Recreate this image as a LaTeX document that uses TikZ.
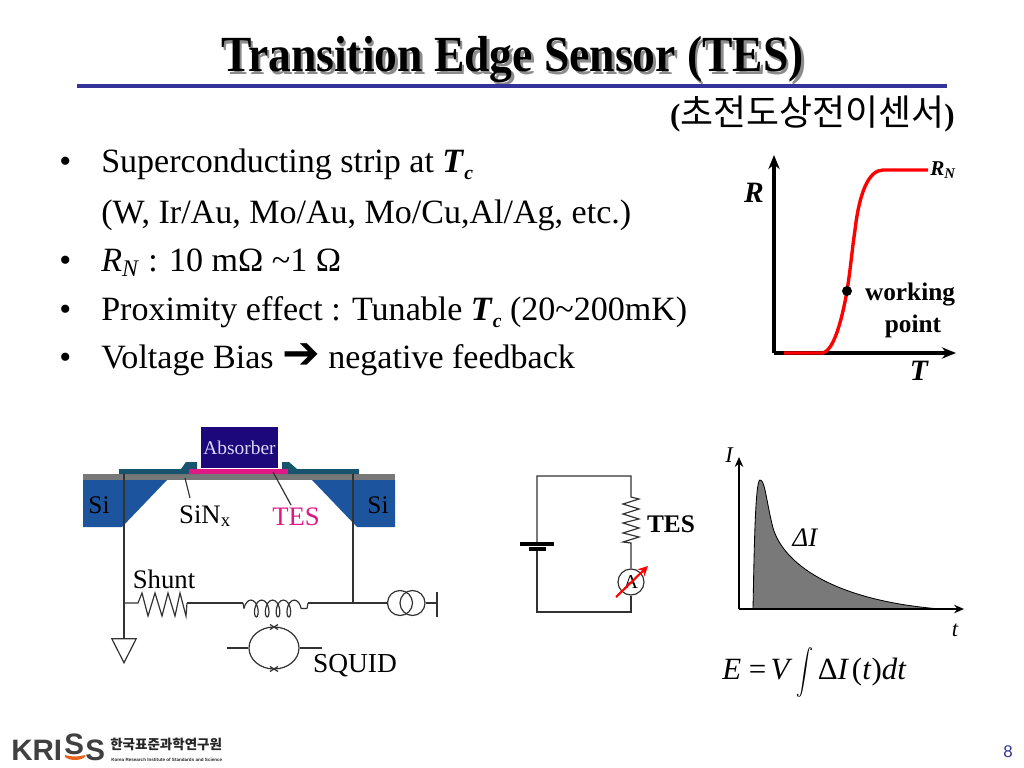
\documentclass[tikz,border=0pt]{standalone}
\usepackage{fontspec}
\usepackage{graphicx}
\setmainfont{Liberation Serif}
\newfontfamily\cjk{Noto Sans CJK KR}
\newfontfamily\sym{DejaVu Sans}
\newfontfamily\logofont{Liberation Sans}
\usetikzlibrary{arrows.meta,positioning,shapes.geometric,decorations.pathmorphing}
\definecolor{SlideBlue}{RGB}{51,51,153}
\definecolor{SiBlue}{RGB}{28,84,158}
\definecolor{LeadTeal}{RGB}{24,84,110}
\definecolor{AbsorberNavy}{RGB}{28,8,122}
\definecolor{TesPink}{RGB}{222,24,132}
\definecolor{MembraneGrey}{RGB}{120,120,120}
\definecolor{WireGrey}{RGB}{50,50,50}
\definecolor{LogoGrey}{RGB}{64,64,64}
\definecolor{LogoOrange}{RGB}{232,100,30}
\newcommand{\tcrit}{\textbf{\textit{T}}\raisebox{-0.22em}{\fontsize{14}{14}\selectfont\textbf{\textit{c}}}}

\begin{document}
\begin{tikzpicture}[
    x=0.025cm, y=-0.025cm,
    body/.style={font=\fontsize{24.2}{28}\selectfont, anchor=base west, inner sep=0pt},
    lbl/.style={font=\fontsize{#1}{#1}\selectfont, inner sep=0pt},
    lbl/.default=18,
    wire/.style={draw=WireGrey, line width=0.85pt},
    axis/.style={line width=2.2pt, -{Stealth[length=10pt,width=8pt]}},
    thinaxis/.style={line width=1.4pt, -{Stealth[length=7pt,width=6pt]}},
    dot/.style={circle, fill=black, inner sep=0pt, minimum size=0.25cm}
]
    \useasboundingbox (0,0) rectangle (1024,768);

    % title
    \node[inner sep=0pt, anchor=base, font=\fontsize{36}{36}\selectfont\bfseries, text=black!45] (titleshadow) at (515,74.5) {\scalebox{0.9}[1]{Transition Edge Sensor (TES)}};
    \node[inner sep=0pt, anchor=base, font=\fontsize{36}{36}\selectfont\bfseries] (title) at (512.5,72) {\scalebox{0.9}[1]{Transition Edge Sensor (TES)}};
    \coordinate (ruleL) at (77,86);
    \coordinate (ruleR) at (947,86);
    \draw[SlideBlue, line width=2.4pt] (ruleL) -- (ruleR);
    \node[lbl=25, anchor=east, font=\fontsize{22}{24}\selectfont\bfseries] (subtitle) at (955,114) {({\cjk\mdseries\fontsize{25.5}{26}\selectfont 초전도상전이센서})};

    % bullets
    \foreach \y/\n in {172/b1, 271/b3, 320/b4, 368/b5}
        \node[body] (\n) at (59,\y) {•};
    \node[body] (t1) at (101,172) {Superconducting strip at \tcrit};
    \node[body] (t2) at (101,223) {(W, Ir/Au, Mo/Au, Mo/Cu,Al/Ag, etc.)};
    \node[body] (t3) at (101,271) {\textit{R}\textsubscript{\textit{N}} : 10 mΩ \textasciitilde1 Ω};
    \node[body] (t4) at (101,320) {Proximity effect : Tunable \tcrit{} (20\textasciitilde200mK)};
    \node[body] (t5) at (101,368) {Voltage Bias {\sym\fontsize{32}{28}\selectfont ➔} negative feedback};

    % R-T curve
    \coordinate (rtO) at (774,353);
    \coordinate (rtY) at (774,155);
    \coordinate (rtX) at (956,353);
    \draw[axis] (rtO) -- (rtY);
    \draw[axis] (rtO) -- (rtX);
    \coordinate (rtA) at (784,353);
    \coordinate (rtB) at (823,353);
    \coordinate (rtW) at (847,291);
    \coordinate (rtM) at (855,230);
    \coordinate (rtC) at (883,170);
    \coordinate (rtD) at (928,170);
    \draw[red, line width=2.4pt] (rtA) -- (rtB) .. controls (833,350) and (841,325) .. (rtW)
        .. controls (851,265) and (852,250) .. (rtM)
        .. controls (859,195) and (868,170) .. (rtC) -- (rtD);
    \node[dot] (work) at (rtW) {};
    \node[font=\fontsize{21}{21}\selectfont\bfseries\itshape, inner sep=0pt] (rLbl) at (754,193) {R};
    \node[font=\fontsize{21}{21}\selectfont\bfseries\itshape, inner sep=0pt] (tLbl) at (919,371) {T};
    \node[font=\fontsize{15}{15}\selectfont\bfseries\itshape, inner sep=0pt] (rnLbl) at (943,170) {R\textsubscript{N}};
    \node[font=\fontsize{18}{18}\selectfont\bfseries, inner sep=0pt] (workLbl) at (910,295) {working};
    \node[font=\fontsize{18}{18}\selectfont\bfseries, inner sep=0pt] (pointLbl) at (913,326) {point};

    % device: substrate, membrane, leads
    \fill[SiBlue] (83,480) -- (167,480) -- (122,527) -- (83,527) -- cycle;
    \fill[SiBlue] (395,480) -- (312,480) -- (357,527) -- (395,527) -- cycle;
    \fill[MembraneGrey] (83,474) rectangle (395,480);
    \fill[LeadTeal] (119,469) -- (181,469) -- (186,462) -- (197,462) -- (197,469) -- (200,474) -- (119,474) -- cycle;
    \fill[LeadTeal] (359,469) -- (297,469) -- (289,462) -- (282,462) -- (282,469) -- (280,474) -- (359,474) -- cycle;
    \node[fill=AbsorberNavy, text=white!85!blue, minimum width=1.925cm, minimum height=1.025cm, inner sep=0pt, font=\fontsize{13.8}{14}\selectfont] (absorber) at (239.5,447.5) {Absorber};
    \fill[TesPink] (189,469) rectangle (288,474);
    \node[lbl=18] (siL) at (99,505) {Si};
    \node[lbl=18] (siR) at (378,505) {Si};
    \node[lbl=19] (sinx) at (205,516) {SiN\textsubscript{x}};
    \node[lbl=19, text=TesPink] (tesLbl) at (296,517) {TES};
    \coordinate (sinxTip) at (185,478);
    \coordinate (sinxEnd) at (190,498);
    \coordinate (tesTip) at (273,472);
    \coordinate (tesEnd) at (291,505);
    \draw[wire] (sinxTip) -- (sinxEnd);
    \draw[wire] (tesTip) -- (tesEnd);

    % readout circuit
    \coordinate (leadL) at (124,474);
    \coordinate (leadR) at (353,474);
    \coordinate (jL) at (124,603);
    \coordinate (jR) at (353,603);
    \coordinate (shuntA) at (138,603);
    \coordinate (shuntB) at (187,603);
    \coordinate (coilA) at (243,603);
    \coordinate (coilB) at (308,603);
    \coordinate (srcEnd) at (437,603);
    \node[isosceles triangle, isosceles triangle apex angle=54, shape border rotate=-90, draw=WireGrey, line width=0.85pt, minimum height=0.6cm, inner sep=0pt, anchor=apex] (gnd) at (124,664) {};
    \node[circle, draw=WireGrey, line width=0.85pt, minimum size=0.625cm, inner sep=0pt] (srcA) at (400,603) {};
    \node[circle, draw=WireGrey, line width=0.85pt, minimum size=0.625cm, inner sep=0pt] (srcB) at (412.5,603) {};
    \draw[wire] (leadL) -- (jL) -- (gnd.north);
    \draw[wire] (leadR) -- (jR);
    \draw[wire] (jL) -- (shuntA) -- (142,593) -- (148,616) -- (155,593) -- (162,616) -- (168,593) -- (175,616) -- (180,593) -- (186,616) -- (shuntB);
    \draw[wire] (shuntB) -- (coilA);
    \draw[wire, decorate, decoration={coil, segment length=7.7pt, amplitude=6pt, aspect=0.5}] (244,608.5) -- (307,608.5);
    \draw[wire] (coilA) -- (244,608.5);
    \draw[wire] (coilB) -- (307,608.5);
    \draw[wire] (coilB) -- (srcA.west);
    \draw[wire] (srcB.east) -- (srcEnd);
    \draw[wire] (437,592) -- (437,617);
    \node[ellipse, draw=WireGrey, line width=0.85pt, minimum width=1.25cm, minimum height=1.05cm, inner sep=0pt] (squid) at (274,648) {};
    \coordinate (squidL) at (227,648);
    \coordinate (squidR) at (322,648);
    \draw[wire] (squidL) -- (squid.west);
    \draw[wire] (squid.east) -- (squidR);
    \draw[wire] (270,624.5) -- (278,629.5) (278,624.5) -- (270,629.5);
    \draw[wire] (270,666.5) -- (278,671.5) (278,666.5) -- (270,671.5);
    \node[lbl=19] (shuntLbl) at (164,579) {Shunt};
    \node[lbl=19.5] (squidLbl) at (355,666) {SQUID};

    % bias circuit
    \coordinate (nwC) at (537,476);
    \coordinate (neC) at (631,476);
    \coordinate (swC) at (537,612);
    \coordinate (seC) at (631,612);
    \coordinate (plateA) at (537,544);
    \coordinate (plateB) at (537,549);
    \coordinate (resA) at (631,497);
    \coordinate (resB) at (631,543);
    \node[circle, draw=WireGrey, line width=0.85pt, minimum size=0.65cm, inner sep=0pt, font=\fontsize{14}{14}\selectfont] (amp) at (631,582) {A};
    \draw[wire] (plateA) -- (nwC) -- (neC) -- (resA) -- (639,499) -- (623,504) -- (639,509) -- (623,514) -- (639,519) -- (623,523) -- (639,528) -- (623,533) -- (639,537) -- (623,542) -- (resB) -- (amp.north);
    \draw[wire] (amp.south) -- (seC) -- (swC) -- (plateB);
    \draw[black, line width=2.2pt] (520,544) -- (554,544);
    \draw[black, line width=2.2pt] (529,549) -- (546,549);
    \draw[red, line width=1.5pt, -{Stealth[length=7pt,width=7pt]}] (616,597) -- (648,566);
    \node[font=\fontsize{18}{18}\selectfont\bfseries, inner sep=0pt] (tesBold) at (671,524) {TES};

    % current pulse
    \coordinate (piO) at (739,609);
    \coordinate (piY) at (739,457);
    \coordinate (piX) at (964,609);
    \coordinate (piA) at (753,609);
    \coordinate (piP) at (760,480);
    \coordinate (piE) at (940,609);
    \fill[gray!95!black] (piA) .. controls (754,560) and (755,480) .. (piP)
        .. controls (765,480) and (766,500) .. (773,528)
        .. controls (783,562) and (830,600) .. (piE) -- cycle;
    \draw[line width=0.6pt] (piA) .. controls (754,560) and (755,480) .. (piP)
        .. controls (765,480) and (766,500) .. (773,528)
        .. controls (783,562) and (830,600) .. (piE);
    \draw[thinaxis] (piO) -- (piY);
    \draw[thinaxis] (piO) -- (piX);
    \node[font=\fontsize{16}{16}\selectfont\itshape, inner sep=0pt] (iLbl) at (729,455) {I};
    \node[font=\fontsize{16}{16}\selectfont\itshape, inner sep=0pt] (ttLbl) at (955,630) {t};
    \node[font=\fontsize{19}{19}\selectfont\itshape, inner sep=0pt] (dLbl) at (805,538) {ΔI};
    \node[font=\fontsize{22}{22}\selectfont, inner sep=0pt, anchor=west] (energy) at (722,672) {\textit{E} =\kern3pt\textit{V}\kern3pt\raisebox{-0.12em}{\scalebox{1.2}[1.6]{$\displaystyle\int$}}\kern3pt Δ\textit{I}\kern2pt(\textit{t})\textit{dt}};

    % footer
    \node[font=\fontsize{21}{21}\selectfont\bfseries\logofont, text=LogoGrey, anchor=base west, inner sep=0pt] (kri) at (11,760) {KRI};
    \node[font=\fontsize{21}{21}\selectfont\bfseries\logofont, text=LogoGrey, anchor=base west, inner sep=0pt] (logoS) at (64,754) {S};
    \node[font=\fontsize{21}{21}\selectfont\bfseries\logofont, text=LogoGrey, anchor=base west, inner sep=0pt] (logoSS) at (85,760) {S};
    \fill[LogoOrange] (65,755) .. controls (72,757) and (78,757) .. (85,755) -- (85,757) .. controls (80,761) and (70,761) .. (65,757) -- cycle;
    \node[font=\fontsize{9.6}{10}\selectfont\bfseries\cjk, anchor=west, text=black!85, inner sep=0pt] (kriss) at (110,744) {한국표준과학연구원};
    \node[font=\fontsize{3.25}{4}\selectfont\bfseries\logofont, anchor=west, text=black!85, inner sep=0pt] (krissEn) at (111,759.5) {Korea Research Institute of Standards and Science};
    \node[font=\fontsize{12}{12}\selectfont\logofont, text=SlideBlue, inner sep=0pt] (page) at (1008,752) {8};
\end{tikzpicture}
\end{document}
